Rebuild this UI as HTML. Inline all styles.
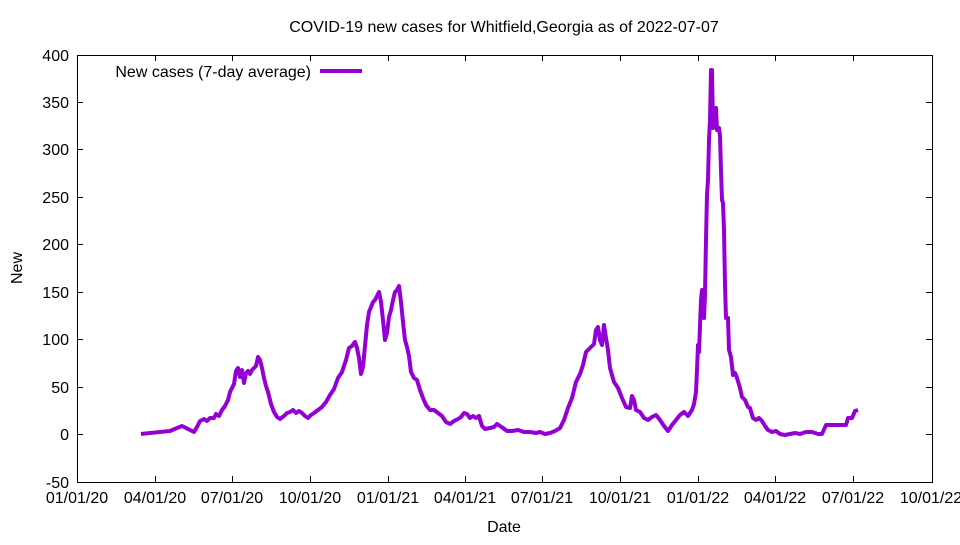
<!DOCTYPE html>
<html><head><meta charset="utf-8"><style>body{margin:0;background:#fff}</style></head>
<body>
<svg width="960" height="540" xmlns="http://www.w3.org/2000/svg" font-family="Liberation Sans, sans-serif" font-size="16">
<rect width="960" height="540" fill="#fff"/>
<rect x="77.5" y="55.5" width="855" height="427" fill="none" stroke="#000" stroke-width="1"/>
<g stroke="#000" stroke-width="1">
<path d="M77 102.5h6M932 102.5h-6M77 149.5h6M932 149.5h-6M77 197.5h6M932 197.5h-6M77 244.5h6M932 244.5h-6M77 292.5h6M932 292.5h-6M77 339.5h6M932 339.5h-6M77 387.5h6M932 387.5h-6M77 434.5h6M932 434.5h-6"/>
<path d="M155.5 482v-6M155.5 55v6M232.5 482v-6M232.5 55v6M310.5 482v-6M310.5 55v6M388.5 482v-6M388.5 55v6M465.5 482v-6M465.5 55v6M542.5 482v-6M542.5 55v6M620.5 482v-6M620.5 55v6M698.5 482v-6M698.5 55v6M775.5 482v-6M775.5 55v6M853.5 482v-6M853.5 55v6"/>
</g>
<g text-anchor="end">
<text x="69" y="61">400</text><text x="69" y="108">350</text><text x="69" y="155">300</text><text x="69" y="203">250</text><text x="69" y="250">200</text><text x="69" y="298">150</text><text x="69" y="345">100</text><text x="69" y="393">50</text><text x="69" y="440">0</text><text x="69" y="488">-50</text>
</g>
<g text-anchor="middle">
<text x="77" y="503">01/01/20</text><text x="155" y="503">04/01/20</text><text x="232" y="503">07/01/20</text><text x="310" y="503">10/01/20</text><text x="388" y="503">01/01/21</text><text x="465" y="503">04/01/21</text><text x="542" y="503">07/01/21</text><text x="620" y="503">10/01/21</text><text x="698" y="503">01/01/22</text><text x="775" y="503">04/01/22</text><text x="853" y="503">07/01/22</text><text x="931" y="503">10/01/22</text>
<text x="504" y="532">Date</text>
<text x="504" y="32">COVID-19 new cases for Whitfield,Georgia as of 2022-07-07</text>
</g>
<text transform="translate(22,268) rotate(-90)" text-anchor="middle">New</text>
<text x="311" y="77" text-anchor="end">New cases (7-day average)</text>
<line x1="320" y1="71" x2="362" y2="71" stroke="#9400d3" stroke-width="4"/>
<polyline fill="none" stroke="#9400d3" stroke-width="4" stroke-linejoin="round" points="141,434 150,433 160,432 170,431 177,428 182,426 186,428 190,430 194,432 197,427 200,421 204,419 207,421 210,418 214,418 216,414 219,416 222,410 225,406 228,400 230,392 232,388 234,384 236,371 238,368 240,377 242,370 244,383 246,373 248,371 250,374 252,370 254,368 256,366 258,357 260,360 262,368 264,378 266,386 268,392 271,404 274,412 277,417 280,419 284,416 287,413 290,412 293,410 296,413 299,411 302,413 305,416 308,418 311,415 314,413 318,410 322,407 326,402 330,395 334,389 338,378 342,372 346,360 349,348 352,346 355,342 357,348 359,358 361,374 363,367 365,346 367,325 369,312 371,307 373,302 375,300 377,296 379,292 381,302 383,320 385,340 387,333 389,317 391,310 393,300 395,292 397,290 399,286 401,302 403,322 405,340 407,347 409,356 411,372 414,378 417,380 420,390 423,398 426,405 430,410 434,410 438,413 442,416 446,422 450,424 454,421 458,419 461,417 464,413 467,414 470,418 473,416 476,418 479,416 482,426 485,429 490,428 494,427 497,424 500,426 503,428 507,431 512,431 518,430 524,432 530,432 536,433 540,432 545,434 550,433 555,431 560,428 564,420 568,408 572,398 576,382 580,374 583,365 586,352 590,348 594,344 596,330 598,327 600,340 602,345 604,325 606,338 608,350 610,368 614,382 618,388 622,398 626,407 630,408 632,396 634,400 636,410 640,412 644,418 648,420 652,417 656,415 660,420 664,426 668,431 672,425 676,420 680,415 684,412 688,416 692,410 694,404 696,392 697,370 698,345 699,352 701,300 702,290 703,310 704,318 705,295 706,240 707,195 708,180 709,140 710,120 711,70 712,70 713,128 714,110 715,125 716,108 717,130 718,128 719,128 720,136 721,170 722,200 723,203 724,230 725,285 726,318 728,318 729,350 731,357 733,375 735,373 737,378 740,388 742,397 745,400 748,407 750,408 753,418 756,420 759,418 762,421 765,426 768,430 772,432 776,431 780,434 785,435 790,434 795,433 800,434 806,432 812,432 818,434 822,434 826,425 832,425 840,425 846,425 848,418 852,418 855,411 858,410"/>
</svg>
</body></html>
